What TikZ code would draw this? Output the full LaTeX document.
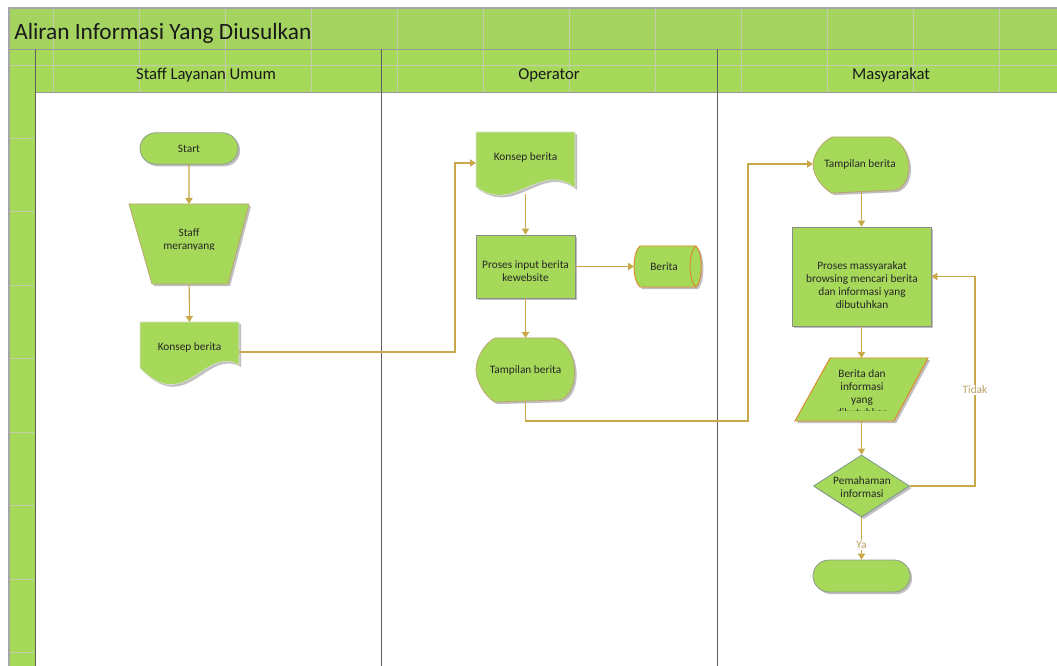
\documentclass[tikz,border=0pt]{standalone}
\usepackage{fontspec}
\setmainfont{Carlito}
\usetikzlibrary{arrows.meta,shapes.misc,shapes.geometric,shadows,calc}
\definecolor{lg}{HTML}{A6D95A}
\definecolor{band}{HTML}{A4D45F}
\definecolor{connc}{HTML}{C9A84A}
\definecolor{texl}{HTML}{C2CEAE}
\definecolor{lanec}{HTML}{5F5F5F}
\definecolor{edgegr}{HTML}{8E9C8C}
\definecolor{orng}{HTML}{E0862A}
\definecolor{tanc}{HTML}{BBA56E}
\definecolor{lblc}{HTML}{B9A062}
\tikzset{
 shd/.style={drop shadow={shadow xshift=1.6pt,shadow yshift=-1.6pt,fill=black!45,opacity=0.55}},
 shp/.style={fill=lg,shd},
 txt/.style={font=\fontsize{8.5}{9.9}\selectfont,text=black!85,align=center,inner sep=0pt},
 term/.style={shp,rounded rectangle,draw=edgegr,line width=0.6pt,minimum width=73.5pt,minimum height=23.5pt,inner sep=0pt,font=\fontsize{8.5}{9.9}\selectfont,text=black!85},
 procbox/.style={shp,rectangle,draw=black!45,line width=0.6pt,inner sep=0pt},
 area/.style={inner sep=0pt,outer sep=0pt,rectangle},
 conn/.style={draw=connc,line width=0.8pt,-{Triangle[length=4.5pt,width=5.5pt]}},
 lbl/.style={font=\fontsize{8.5}{9.9}\selectfont,text=lblc,fill=white,inner sep=1pt},
 hdr/.style={font=\fontsize{12.5}{15}\selectfont,text=black!90},
}
\begin{document}
\begin{tikzpicture}[x=0.75pt,y=-0.75pt]
\useasboundingbox (0,0) rectangle (1057,666);
\fill[white] (0,0) rectangle (1057,666);
% bands
\fill[band] (9,8) rectangle (1057,49);
\fill[lg] (9,49) rectangle (1057,92);
\fill[lg] (9,92) rectangle (35,666);
\foreach \x in {53,139,...,1000} \draw[texl,line width=0.7pt] (\x,8) -- (\x,92);
\draw[texl,line width=0.7pt] (9,65) -- (1057,65);
\foreach \y in {138,211.5,...,660} \draw[texl,line width=0.7pt] (9,\y) -- (35,\y);
\draw[black!35,line width=0.8pt] (9,666) -- (9,8) -- (1057,8);
\draw[black!40,line width=0.7pt] (9,49) -- (1057,49);
\draw[black!40,line width=0.7pt] (35,92) -- (1057,92);
\draw[lanec,line width=0.7pt] (35,49) -- (35,666);
\draw[lanec,line width=0.7pt] (381,49) -- (381,666);
\draw[lanec,line width=0.7pt] (717,49) -- (717,666);
\node[anchor=west,font=\fontsize{17.5}{20}\selectfont,text=black!90,inner sep=0pt] (title) at (14,33) {Aliran Informasi Yang Diusulkan};
\node[hdr] (h1) at (206,75) {Staff Layanan Umum};
\node[hdr] (h2) at (549,75) {Operator};
\node[hdr] (h3) at (891,75) {Masyarakat};

% lane 1
\node[term] (start) at (189,148.5) {Start};
\path[shp,draw=tanc,line width=0.6pt] (129,204) -- (249,204) -- (228,284) -- (152,284) -- cycle;
\node[area,minimum width=90pt,minimum height=60pt] (trap) at (189,244) {};
\begin{scope}
\clip (129,204) rectangle (249,249.5);
\node[txt] (traptxt) at (189,240) {Staff\\meranyang};
\end{scope}
\path[shp,draw=black!12,line width=0.4pt] (140,322) -- (239,322) -- (239,365) .. controls (205,345) and (185,415) .. (140,368) -- cycle;
\node[area,minimum width=74.25pt,minimum height=37.5pt] (doc1) at (189.5,347) {};
\node[txt] (doc1t) at (189.5,347.5) {Konsep berita};

% lane 2
\path[shp,draw=black!12,line width=0.4pt] (476,132) -- (575,132) -- (575,188) .. controls (540,160) and (515,215) .. (476,187) -- cycle;
\node[area,minimum width=74.25pt,minimum height=46.5pt] (doc2) at (525.5,163) {};
\node[txt] (doc2t) at (525.5,157) {Konsep berita};
\node[procbox,minimum width=74.25pt,minimum height=47.25pt] (proc1) at (525.5,266.5) {};
\node[txt] (proc1t) at (525.5,271) {Proses input berita\\kewebsite};
\path[shp,draw=orng,line width=0.7pt] (640,246) -- (696,246) .. controls (703,253) and (703,280) .. (696,287) -- (640,287) .. controls (632,280) and (632,253) .. cycle;
\draw[orng,line width=0.7pt] (696,246) .. controls (688,253) and (688,280) .. (696,287);
\node[area,minimum width=49.5pt,minimum height=30.75pt] (berita) at (667,266.5) {};
\node[txt] (beritat) at (664,267) {Berita};
\path[shp,draw=tanc,line width=0.6pt] (495,338) -- (555,338) .. controls (578,345) and (582,392) .. (560,400) -- (495,402) .. controls (484,396) and (476,380) .. (476,370) .. controls (476,358) and (484,344) .. cycle;
\node[area,minimum width=74.25pt,minimum height=48pt] (disp2) at (525.5,370) {};
\node[txt] (disp2t) at (525.5,370) {Tampilan berita};

% lane 3
\path[shp,draw=tanc,line width=0.6pt] (832,137) -- (890,137) .. controls (912,144) and (916,184) .. (895,190) -- (832,193) .. controls (822,188) and (813,175) .. (813,165) .. controls (813,154) and (822,142) .. cycle;
\node[area,minimum width=72.75pt,minimum height=42pt] (disp3) at (861.5,164) {};
\node[txt] (disp3t) at (860,164) {Tampilan berita};
\node[procbox,minimum width=104.25pt,minimum height=74.25pt] (proc2) at (861.5,276.5) {};
\node[txt] (proc2t) at (862,285) {Proses massyarakat\\browsing mencari berita\\dan informasi yang\\dibutuhkan};
\path[shp,draw=orng,line width=0.7pt] (830,358) -- (928,358) -- (894,421) -- (795,421) -- cycle;
\node[area,minimum width=99.75pt,minimum height=47.25pt] (para) at (861.5,389.5) {};
\begin{scope}
\clip (795,358) rectangle (928,411);
\node[txt] (parat) at (862,393) {Berita dan\\informasi\\yang\\dibutuhkan};
\end{scope}
\node[shp,diamond,draw={rgb,255:red,125;green,150;blue,140},line width=0.6pt,minimum width=72pt,minimum height=46.5pt,inner sep=0pt] (dec) at (861.5,486) {};
\node[txt] (dect) at (862,487) {Pemahaman\\informasi};
\node[term,minimum width=72.75pt,minimum height=24pt] (endt) at (861.5,576) {};

% connectors
\draw[conn] (start) -- (trap);
\draw[conn] (trap) -- (doc1);
\coordinate (d1o) at ($(doc1.east)+(0,5)$);
\draw[conn] (d1o) -- (455,352) |- (doc2.west);
\draw[conn] (doc2) -- (proc1);
\draw[conn] (proc1) -- (berita);
\draw[conn] (proc1) -- (disp2);
\draw[conn] (disp2.south) |- (748,421) |- (disp3.west);
\draw[conn] (disp3) -- (proc2);
\draw[conn] (proc2) -- (para);
\draw[conn] (para) -- (dec);
\draw[conn] (dec.east) -- (975,486) -- (975,276.5) -- (proc2.east);
\node[lbl] (tidak) at (975,390) {Tidak};
\draw[conn] (dec) -- (endt);
\node[lbl] (ya) at (861.5,545) {Ya};
\end{tikzpicture}
\end{document}
